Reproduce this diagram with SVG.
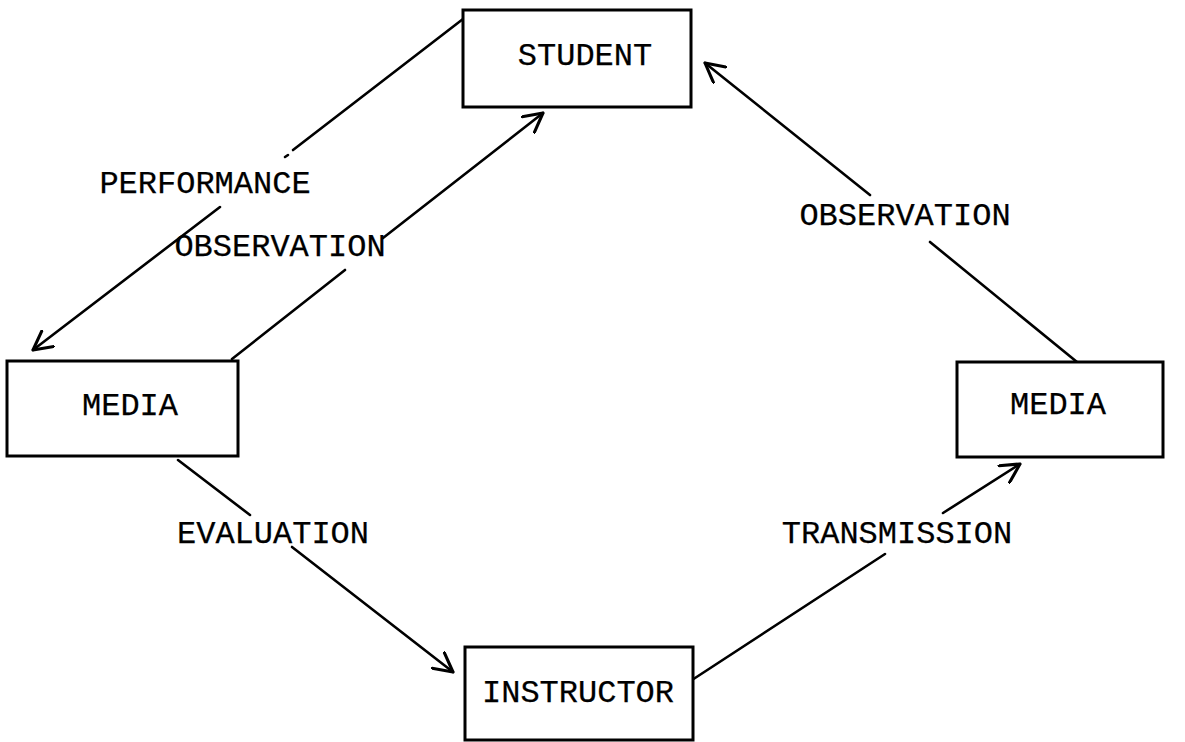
<svg xmlns="http://www.w3.org/2000/svg" width="1185" height="742" viewBox="0 0 1185 742">
<style>
.box{fill:#fff;stroke:#000;stroke-width:3}
.lbl{font-family:"Liberation Mono","DejaVu Sans Mono",monospace;font-size:32px;fill:#000;stroke:#000;stroke-width:0.25;text-anchor:middle}
.ln{stroke:#000;stroke-width:2.6;fill:none;stroke-linecap:round}
</style>
<defs>
<marker id="ah" markerUnits="userSpaceOnUse" markerWidth="22" markerHeight="22" refX="18" refY="10" orient="auto" viewBox="0 0 20 20">
<path d="M1,1 L18,10 L1,19" fill="none" stroke="#000" stroke-width="2.8" stroke-linecap="round" stroke-linejoin="round"/>
</marker>
</defs>
<rect width="1185" height="742" fill="#fff"/>
<g id="connectors">
<g id="performance">
<line class="ln" x1="463" y1="19" x2="293" y2="150"/>
<line class="ln" x1="288" y1="155" x2="285" y2="157"/>
<line class="ln" x1="220" y1="207" x2="33" y2="350" marker-end="url(#ah)"/>
</g>
<g id="observation-left">
<line class="ln" x1="232" y1="359" x2="345" y2="270"/>
<line class="ln" x1="383" y1="238" x2="543" y2="113" marker-end="url(#ah)"/>
</g>
<g id="evaluation">
<line class="ln" x1="178" y1="460" x2="250" y2="515"/>
<line class="ln" x1="292" y1="547" x2="453" y2="672" marker-end="url(#ah)"/>
</g>
<g id="transmission">
<line class="ln" x1="692" y1="680" x2="885" y2="554"/>
<line class="ln" x1="943" y1="513" x2="1020" y2="464" marker-end="url(#ah)"/>
</g>
<g id="observation-right">
<line class="ln" x1="1077" y1="362" x2="930" y2="242"/>
<line class="ln" x1="870" y1="195" x2="705" y2="63" marker-end="url(#ah)"/>
</g>
</g>
<g id="student"><rect class="box" x="463" y="10" width="228" height="97"/><text class="lbl" x="585" y="65">STUDENT</text></g>
<g id="media-left"><rect class="box" x="7" y="361" width="231" height="95"/><text class="lbl" x="130" y="415">MEDIA</text></g>
<g id="media-right"><rect class="box" x="957" y="362" width="206" height="95"/><text class="lbl" x="1058" y="414">MEDIA</text></g>
<g id="instructor"><rect class="box" x="465" y="647" width="228" height="93"/><text class="lbl" x="578" y="702">INSTRUCTOR</text></g>
<g id="labels">
<text class="lbl" x="205" y="193">PERFORMANCE</text>
<text class="lbl" x="280" y="256">OBSERVATION</text>
<text class="lbl" x="273" y="543">EVALUATION</text>
<text class="lbl" x="897" y="543">TRANSMISSION</text>
<text class="lbl" x="905" y="225">OBSERVATION</text>
</g>
</svg>
